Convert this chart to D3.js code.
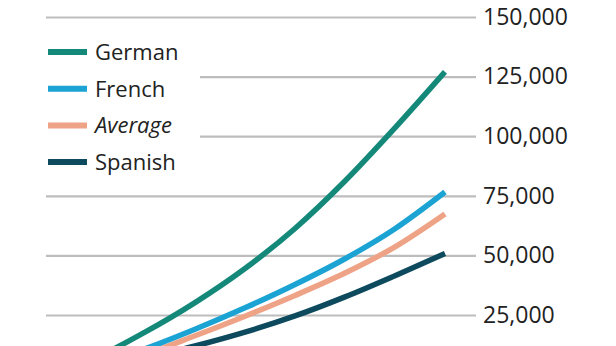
<!DOCTYPE html>
<html>
<head>
<meta charset="utf-8">
<script src="https://cdn.jsdelivr.net/npm/d3@7"></script>
<style>
  body { margin: 0; background: #fff; }
  svg { display: block; font-family: "Open Sans", sans-serif; }
</style>
</head>
<body>
<div id="chart"></div>
<script>
// years into working life (x), cumulative value (y)
const years = [0, 5, 10, 15, 20, 25, 30, 35, 40];
const german = [0, 7000, 17800, 30200, 44500, 61300, 81200, 103500, 127000];
const french = [0, 4000, 10800, 19000, 28000, 37800, 48600, 61200, 76600];
const average = [0, 3000, 8500, 16300, 24500, 33200, 42600, 53600, 67400];
const spanish = [0, 2500, 7000, 12000, 17800, 24600, 32600, 41500, 50800];
const tickValues = [25000, 50000, 75000, 100000, 125000, 150000];

const series = [
  {name: 'German', values: german, color: '#14897a'},
  {name: 'French', values: french, color: '#1ba3d3'},
  {name: 'Average', values: average, color: '#eea386', italic: true},
  {name: 'Spanish', values: spanish, color: '#0d4a5e'}
];

const width = 616, height = 346;
const svg = d3.select('#chart').append('svg')
  .attr('width', width)
  .attr('height', height);

const x = d3.scaleLinear().domain([0, 40]).range([45, 445]);
const y = d3.scaleLinear().domain([0, 150000]).range([374.6, 17]);

// gridlines + labels on the right
const yAxis = d3.axisRight(y)
  .tickValues(tickValues)
  .tickSize(-430)
  .tickPadding(7)
  .tickFormat(d3.format(','));

const gAxis = svg.append('g')
  .attr('transform', 'translate(476,0)')
  .call(yAxis);
gAxis.select('.domain').remove();
gAxis.selectAll('line')
  .attr('stroke', '#bdbdbd')
  .attr('stroke-width', 2.2);
gAxis.selectAll('text')
  .attr('fill', '#222')
  .style('font-size', '23px')
  .style('font-family', '"Open Sans", sans-serif');

// legend box hides the gridlines behind it
svg.append('rect')
  .attr('x', 44).attr('y', 26)
  .attr('width', 156).attr('height', 160)
  .attr('fill', '#fff');

const line = d3.line()
  .x((d, i) => x(years[i]))
  .y(d => y(d))
  .curve(d3.curveMonotoneX);

svg.append('g').selectAll('path')
  .data(series.slice().reverse())
  .enter().append('path')
    .attr('d', d => line(d.values))
    .attr('fill', 'none')
    .attr('stroke', d => d.color)
    .attr('stroke-width', 5.5)
    .attr('stroke-linecap', 'butt');

const legend = svg.append('g');
const item = legend.selectAll('g')
  .data(series)
  .enter().append('g')
    .attr('transform', (d, i) => `translate(48,${52 + i * 36.7})`);

item.append('line')
  .attr('x1', 0).attr('x2', 39)
  .attr('stroke', d => d.color)
  .attr('stroke-width', 6);

item.append('text')
  .attr('x', 47)
  .attr('dy', '0.36em')
  .attr('fill', '#222')
  .style('font-size', '22px')
  .style('font-style', d => d.italic ? 'italic' : 'normal')
  .text(d => d.name);
</script>
</body>
</html>
